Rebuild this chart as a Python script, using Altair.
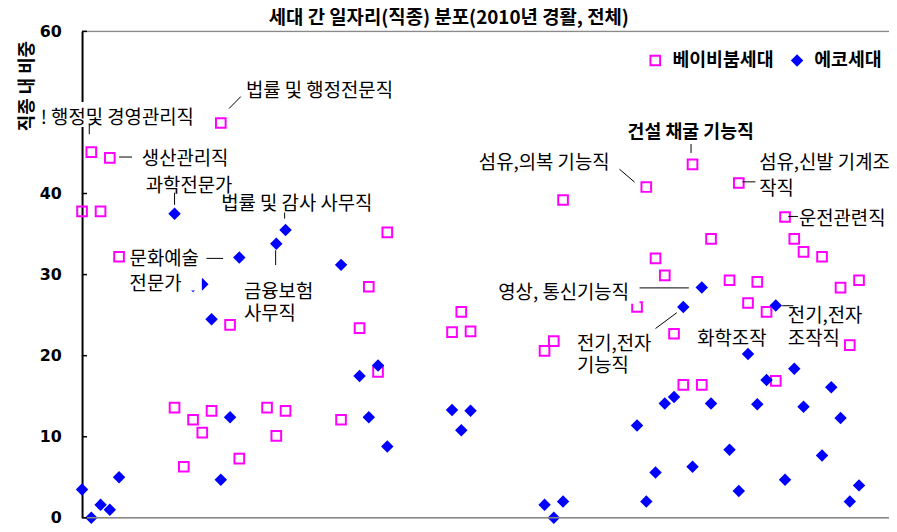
import altair as alt
import pandas as pd

FONT = "Noto Sans CJK KR"
series_names = ["베이비붐세대", "에코세대"]
series_colors = ["#FF00FF", "#0000FF"]

# occupation index (x position) and share within occupation (%)
boomer_idx = [0, 1, 2, 3, 4, 10, 11, 12, 13, 14, 15, 16, 17, 20, 21, 22, 28, 30, 31, 32, 33,
              40, 41, 42, 50, 51, 52, 60, 61, 62, 63, 64, 65, 66, 67, 68, 70, 71, 72, 73, 74,
              75, 76, 77, 78, 80, 82, 83, 84]
boomer_val = [37.8, 45.1, 37.8, 44.4, 32.2, 13.6, 6.3, 12.1, 10.5, 13.2, 48.7, 23.8, 7.3, 13.6,
              10.1, 13.2, 12.1, 23.4, 28.5, 18.0, 35.2, 22.9, 25.4, 23.0, 20.6, 21.8, 39.2, 26.0,
              40.8, 32.0, 29.9, 22.7, 16.4, 43.6, 16.4, 34.4, 29.3, 41.3, 26.5, 29.1, 25.4, 16.9,
              37.1, 34.4, 32.8, 32.2, 28.4, 21.3, 29.3]
echo_idx = [0, 1, 2, 3, 4, 10, 12, 13, 14, 15, 16, 17, 21, 22, 28, 30, 31, 32, 33, 40, 41, 42, 50,
            51, 52, 60, 61, 62, 63, 64, 65, 66, 67, 68, 70, 71, 72, 73, 74, 75, 76, 77, 78, 80,
            81, 82, 83, 84]
echo_val = [3.5, 0.0, 1.6, 1.0, 5.0, 37.5, 28.6, 28.8, 24.5, 4.7, 12.4, 32.1, 33.8, 35.5, 31.2, 17.5,
            12.4, 18.8, 8.8, 13.3, 10.8, 13.2, 1.6, 0.0, 2.0, 11.4, 2.0, 5.6, 14.1, 14.9, 26.0,
            6.3, 28.4, 14.1, 8.4, 3.3, 20.2, 14.0, 17.0, 26.2, 4.7, 18.4, 13.7, 7.7, 16.1, 12.3,
            2.0, 4.0]

# annotation labels (in data units: x = occupation index, y = share)
under_text = ["과학전문가"]
under_x = [6.89]
under_y = [40.95]
label_text = ["! 행정및 경영관리직", "법률 및 행정전문직", "생산관리직", "법률 및 감사 사무직",
              "문화예술", "전문가", "금융보험", "사무직", "섬유,의복 기능직",
              "섬유,신발 기계조", "작직", "운전관련직", "영상, 통신기능직", "전기,전자", "기능직",
              "화학조작", "전기,전자", "조작직"]
label_x = [-4.46, 17.72, 6.46, 15.04, 5.14, 5.14, 17.5, 17.5, 42.9,
           73.2, 73.2, 77.5, 45.0, 53.5, 53.5, 66.5, 76.3, 76.3]
label_y = [49.27, 52.69, 44.25, 38.75, 31.91, 28.85, 27.87, 25.18, 43.77,
           43.77, 40.59, 36.80, 27.75, 21.39, 18.70, 22.0, 24.94, 22.0]
bold_text = ["건설 채굴 기능직"]
bold_x = [58.98]
bold_y = [47.56]

# leader lines
conn_x = [0.78, 15.9, 4.0, 10.0, 21.9, 13.45, 20.93, 58.1, 65.84, 71.4, 76.35, 60.27, 62.0, 75.7]
conn_x2 = [0.78, 17.17, 5.4, 10.0, 21.9, 15.25, 20.93, 59.74, 65.84, 72.8, 77.4, 65.6, 64.3, 76.9]
conn_y = [48.66, 50.49, 44.5, 40.1, 37.65, 32.0, 33.0, 43.0, 46.1, 41.44, 37.17, 28.36, 23.35, 26.16]
conn_y2 = [47.31, 51.96, 44.5, 38.6, 36.9, 32.0, 31.17, 41.4, 45.0, 41.44, 37.17, 28.36, 25.3, 26.16]

# white label boxes (opaque text boxes of the original annotations)
box_x = [-4.6, 4.86, 14.82, 44.73]
box_x2 = [11.5, 12.95, 31.54, 60.27]
box_y = [48.2, 28.05, 37.53, 26.4]
box_y2 = [51.3, 30.32, 39.98, 29.2]

y_ticks = [0, 10, 20, 30, 40, 50, 60]
X_DOMAIN = [0, 87.24]

rows = [{"idx": i, "val": v, "series": series_names[0]} for i, v in zip(boomer_idx, boomer_val)]
rows += [{"idx": i, "val": v, "series": series_names[1]} for i, v in zip(echo_idx, echo_val)]
df = pd.DataFrame(rows)

xs = alt.Scale(domain=X_DOMAIN, nice=False, zero=False)
ys = alt.Scale(domain=[0, 60], nice=False, zero=False)

y_axis = alt.Axis(
    values=y_ticks, ticks=False, tickSize=0, labelPadding=21, grid=False,
    labelFont="DejaVu Sans", labelFontSize=16, labelFontWeight="bold", labelColor="black",
    domainColor="black", domainWidth=2, zindex=0,
    title="직종 내 비중", titleFont=FONT, titleFontSize=18, titleFontWeight="bold",
    titleColor="black", titleAngle=270, titleX=-55, titleY=54.7, titleAlign="center",
    titleBaseline="middle")


def X(field):
    return alt.X(field, scale=xs, axis=None)


def Y(field):
    return alt.Y(field, scale=ys, axis=y_axis, title="직종 내 비중")


legend = alt.Legend(orient="none", legendX=569, legendY=20, direction="horizontal", title=None,
                    labelFont=FONT, labelFontSize=18.5, labelFontWeight="bold", labelColor="black",
                    symbolSize=95, symbolStrokeWidth=2, labelOffset=8, columnPadding=14, padding=0)

points = alt.Chart(df).mark_point(size=95, strokeWidth=2, opacity=1).encode(
    x=X("idx:Q"),
    y=Y("val:Q"),
    shape=alt.Shape("series:N", scale=alt.Scale(domain=series_names, range=["square", "diamond"]), legend=legend),
    stroke=alt.Stroke("series:N", scale=alt.Scale(domain=series_names, range=series_colors), legend=legend),
    fill=alt.Fill("series:N", scale=alt.Scale(domain=series_names, range=["transparent", "#0000FF"]), legend=legend),
)

frame = alt.Chart(pd.DataFrame({"val": [0, 60]})).mark_rule(color="#8a8a8a", strokeWidth=1.5).encode(
    y=Y("val:Q"), x=alt.value(0), x2=alt.value(814))

ticks = alt.Chart(pd.DataFrame({"val": y_ticks})).mark_rule(color="black", strokeWidth=1.5).encode(
    y=Y("val:Q"), x=alt.value(0), x2=alt.value(5))

under_labels = alt.Chart(pd.DataFrame({"idx": under_x, "val": under_y, "t": under_text})).mark_text(
    align="left", baseline="middle", font=FONT, fontSize=19, color="black").encode(
    x=X("idx:Q"), y=Y("val:Q"), text="t:N")

boxes = alt.Chart(pd.DataFrame({"idx": box_x, "x2": box_x2, "val": box_y, "y2": box_y2})).mark_rect(
    fill="white").encode(x=X("idx:Q"), x2="x2:Q", y=Y("val:Q"), y2="y2:Q")

labels = alt.Chart(pd.DataFrame({"idx": label_x, "val": label_y, "t": label_text})).mark_text(
    align="left", baseline="middle", font=FONT, fontSize=19, color="black").encode(
    x=X("idx:Q"), y=Y("val:Q"), text="t:N")

bold_labels = alt.Chart(pd.DataFrame({"idx": bold_x, "val": bold_y, "t": bold_text})).mark_text(
    align="left", baseline="middle", font=FONT, fontSize=18.5, fontWeight="bold", color="black").encode(
    x=X("idx:Q"), y=Y("val:Q"), text="t:N")

conns = alt.Chart(pd.DataFrame({"idx": conn_x, "x2": conn_x2, "val": conn_y, "y2": conn_y2})).mark_rule(
    color="black", strokeWidth=1).encode(x=X("idx:Q"), x2="x2:Q", y=Y("val:Q"), y2="y2:Q")

chart = alt.layer(points, frame, ticks, under_labels, boxes, labels, bold_labels, conns).properties(
    width=814, height=490.7,
    autosize=alt.AutoSizeParams(type="none"),
    padding={"left": 74.7, "top": 21.3, "right": 0, "bottom": 9},
    title=alt.TitleParams(text="세대 간 일자리(직종) 분포(2010년 경활, 전체)", font=FONT, fontSize=19,
                          fontWeight="bold", color="black", anchor="middle", dx=-37, dy=7, offset=2),
).configure_view(stroke="transparent").configure(background="white")

chart.save("out.html", embed_options={"renderer": "svg", "actions": False})
